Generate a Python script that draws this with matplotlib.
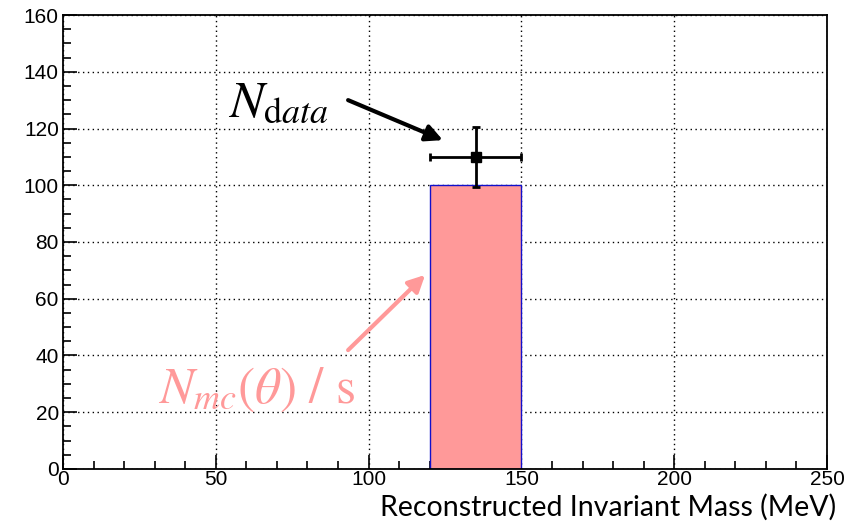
import matplotlib
matplotlib.use("Agg")
import matplotlib.pyplot as plt
from matplotlib.ticker import MultipleLocator

plt.rcParams['font.family'] = ['Liberation Sans', 'DejaVu Sans']
plt.rcParams['mathtext.fontset'] = 'stix'

# histogram bin (MC prediction)
bin_left = [120]
bin_width = [30]
mc_counts = [100]

# data point
data_x = [135]
data_y = [110]
data_xerr = [15]
data_yerr = [10.5]

pink = '#ff9999'

fig = plt.figure(figsize=(8.66, 5.25), dpi=100)
ax = fig.add_axes([0.0727, 0.1067, 0.8823, 0.8647])

ax.bar(bin_left, mc_counts, width=bin_width, align='edge',
       color=pink, edgecolor='#1010cc', linewidth=1.0, zorder=2)
ax.errorbar(data_x, data_y, xerr=data_xerr, yerr=data_yerr, fmt='s',
            color='black', ms=7, elinewidth=2, capsize=3, capthick=2, zorder=3)

ax.set_xlim(0, 250)
ax.set_ylim(0, 160)
ax.xaxis.set_major_locator(MultipleLocator(50))
ax.xaxis.set_minor_locator(MultipleLocator(10))
ax.yaxis.set_major_locator(MultipleLocator(20))
ax.yaxis.set_minor_locator(MultipleLocator(5))
ax.tick_params(which='both', direction='in', top=False, right=False,
               labelsize=15, width=1.2, colors='black')
ax.tick_params(which='major', length=10)
ax.tick_params(which='minor', length=6)
ax.tick_params(axis='x', pad=1)
ax.tick_params(axis='y', pad=3)
for lab in ax.get_xticklabels() + ax.get_yticklabels():
    lab.set_family(['Liberation Sans', 'DejaVu Sans'])
ax.grid(True, which='major', linestyle=(0, (1, 2.5)), color='black', linewidth=1.0, zorder=0)
ax.set_axisbelow(True)
for s in ax.spines.values():
    s.set_linewidth(1.3)

fig.text(0.965, 0.008, 'Reconstructed Invariant Mass (MeV)', ha='right', va='bottom',
         fontsize=20.5, family=['Lato', 'DejaVu Sans'])

# annotations
ax.annotate('', xy=(124.3, 115.9), xytext=(93.3, 130.0),
            arrowprops=dict(arrowstyle='-|>,head_length=1.0,head_width=0.5',
                            color='black', lw=3, shrinkA=0, shrinkB=0))
ax.text(54, 124, r'$N_{\mathrm{d}ata}$', fontsize=37, color='black',
        ha='left', va='baseline')

ax.annotate('', xy=(118.5, 68.4), xytext=(93.3, 41.9),
            arrowprops=dict(arrowstyle='-|>,head_length=1.0,head_width=0.5',
                            color=pink, lw=3, shrinkA=0, shrinkB=0))
ax.text(31, 23.5, r'$N_{mc}(\theta)\ /\ \mathrm{s}$', fontsize=37, color=pink,
        ha='left', va='baseline')

fig.savefig('out.png', dpi=100)
